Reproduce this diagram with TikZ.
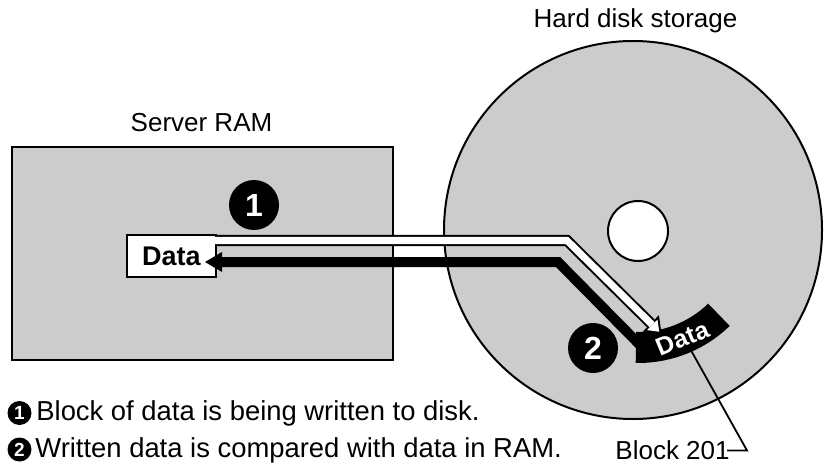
\documentclass[tikz,border=0pt]{standalone}
\usepackage{xcolor}
\usepackage{fontspec}
\setmainfont{Liberation Sans}
\usepackage{tikz}
\usetikzlibrary{arrows.meta,calc}
\definecolor{platter}{HTML}{CCCCCC}

\begin{document}
\begin{tikzpicture}[x=0.5pt,y=0.5pt,
        txt/.style={font=\fontsize{13}{15}\selectfont,inner sep=0pt},
        keytxt/.style={font=\fontsize{13.7}{16}\selectfont,inner sep=0pt},
        ball/.style={circle,fill=black,text=white,inner sep=0pt,minimum size=25pt,font=\fontsize{16}{18}\selectfont\bfseries},
        keyball/.style={circle,fill=black,text=white,inner sep=0pt,minimum size=12pt,font=\fontsize{9.5}{11}\selectfont\bfseries}]
                \useasboundingbox (0,0) rectangle (828,466);
                \node[circle,draw,line width=1pt,fill=platter,minimum size=189pt] (disk) at (633,236) {};
                \coordinate (hub) at (638,235);
                \node[circle,draw,line width=1pt,fill=white,minimum size=30pt] (hole) at (hub) {};
                \fill ($(hub)+(-91:101)$) arc[start angle=-91,end angle=-46,radius=101] -- ($(hub)+(-46:132)$) arc[start angle=-46,end angle=-91,radius=132] -- cycle;
                \node[draw,line width=1pt,fill=platter,minimum width=190.5pt,minimum height=106.5pt] (ram) at (202.5,212.5) {};
                \node[draw,line width=1pt,fill=white,minimum width=44.5pt,minimum height=21pt,font=\fontsize{13.5}{15}\selectfont\bfseries] (databox) at (171.5,210) {Data};
                \coordinate (wstart) at (216,225.5);
                \coordinate (wbend) at (567,225.5);
                \coordinate (wtip) at (661.5,132);
                \coordinate (bstart) at ($(hub)+(-89:114)$);
                \coordinate (bbend) at (558,204);
                \coordinate (btip) at (205,204);
                \draw[line width=5pt,line join=miter,-{Triangle[length=8.5pt,width=10pt,line width=0pt]}] (bstart) -- (bbend) -- (btip);
                \draw[line width=5.5pt,line join=miter,-{Triangle[length=7.5pt,width=11.5pt,line width=0pt]}] (wstart) -- (wbend) -- (wtip);
                \draw[white,line width=3.5pt,line join=miter,shorten <=-2pt,shorten >=1.6pt,-{Triangle[length=4.9pt,width=7.4pt,line width=0pt]}] (wstart) -- (wbend) -- (wtip);
                \node[text=white,rotate=22.5,inner sep=0pt,font=\fontsize{12.5}{14}\selectfont\bfseries] (arcdata) at ($(hub)+(-67.5:116.5)$) {Data};
                \node[ball] (one) at (254,261) {1};
                \node[ball] (two) at (593,118) {2};
                \node[txt,anchor=base] (ramlabel) at (201.5,334) {Server RAM};
                \node[txt,anchor=base] (disklabel) at (635.5,438) {Hard disk storage};
                \node[keyball] (key1) at (19.5,53) {1};
                \node[keytxt,anchor=base west] (keytext1) at (36,45.5) {Block of data is being written to disk.};
                \node[keyball] (key2) at (19.5,16.5) {2};
                \node[keytxt,anchor=base west] (keytext2) at (35,8.5) {Written data is compared with data in RAM.};
                \node[txt,anchor=base east] (blocklabel) at (730,6.5) {Block 201};
                \coordinate (blk) at ($(hub)+(-66:132)$);
                \coordinate (blkbend) at (747,15.5);
                \draw[line width=0.9pt,shorten >=-1.5pt] (blk) -- (blkbend) -- (blkbend -| blocklabel.east);
            \end{tikzpicture}
\end{document}
